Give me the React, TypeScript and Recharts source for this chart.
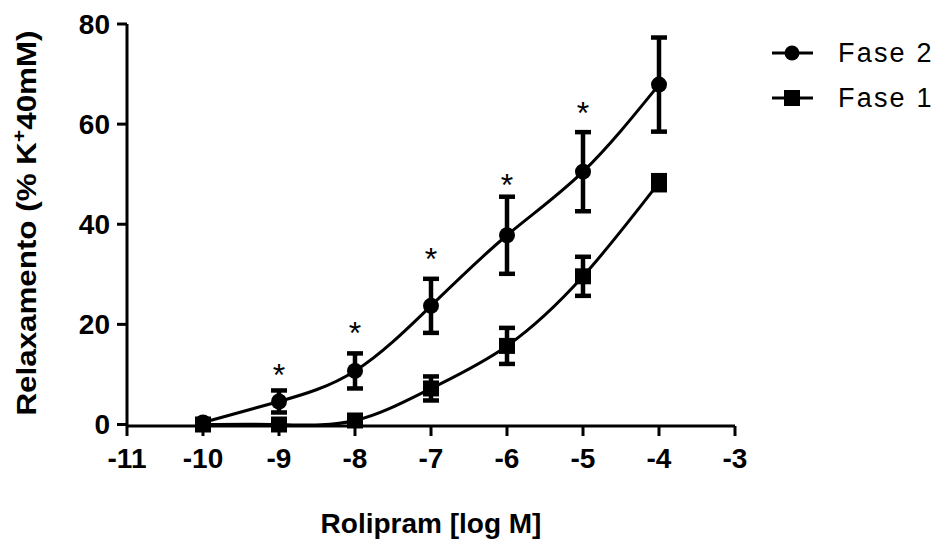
import React from 'react';
import { ComposedChart, Line, Scatter, XAxis, YAxis, ErrorBar, Label } from 'recharts';

// log concentration of rolipram
const doses = [-10, -9, -8, -7, -6, -5, -4];
// Fase 2 (circles)
const fase2Mean = [0.4, 4.6, 10.7, 23.7, 37.8, 50.5, 67.9];
const fase2Sem = [0.5, 2.2, 3.5, 5.4, 7.7, 7.9, 9.4];
// Fase 1 (squares)
const fase1Mean = [0, 0, 0.8, 7.2, 15.7, 29.6, 48.3];
const fase1Sem = [0.3, 0.3, 0.5, 2.4, 3.6, 3.9, 1.5];
// significance marks
const starDoses = [-9, -8, -7, -6, -5];
const starLevels = [11.3, 19.7, 34.4, 49.2, 63.7];

const xTicks = [-11, -10, -9, -8, -7, -6, -5, -4, -3];
const yTicks = [0, 20, 40, 60, 80];

const font = '"Liberation Sans", Arial, sans-serif';

const fase2Data = doses.map((x, i) => ({ x, y: fase2Mean[i], err: fase2Sem[i] }));
const fase1Data = doses.map((x, i) => ({ x, y: fase1Mean[i], err: fase1Sem[i] }));
const starData = starDoses.map((x, i) => ({ x, y: starLevels[i] }));

const CircleDot = (p: any) => <circle key={`c-${p.index}`} cx={p.cx} cy={p.cy} r={8} fill="#000" />;
const SquareDot = (p: any) => <rect key={`s-${p.index}`} x={p.cx - 8} y={p.cy - 8} width={16} height={16} fill="#000" />;
const Star = (p: any) => (
  <text x={p.cx} y={p.cy + 18} textAnchor="middle" fontSize={32} fontFamily={font} fill="#000">*</text>
);

const YTitle = (p: any) => {
  const vb = p.viewBox || { x: 0, y: 24, width: 127, height: 402 };
  const cy = vb.y + vb.height / 2 - 2;
  const x = 36;
  return (
    <text
      transform={`rotate(-90, ${x}, ${cy})`}
      x={x}
      y={cy}
      textAnchor="middle"
      fontSize={28}
      fontWeight="bold"
      fontFamily={font}
      fill="#000"
      textLength={385}
      lengthAdjust="spacingAndGlyphs"
    >
      Relaxamento (% K<tspan dy={-11} fontSize={19}>+</tspan><tspan dy={11}>40mM)</tspan>
    </text>
  );
};

const legendText = { fontSize: 27, fontFamily: font, fill: '#000', letterSpacing: 2.2 };

const LegendBox = () => (
  <svg width={178} height={80} style={{ position: 'absolute', left: 770, top: 40 }}>
    <line x1={2} y1={13} x2={43} y2={13} stroke="#000" strokeWidth={3} />
    <circle cx={22} cy={13} r={7.5} fill="#000" />
    <text x={68} y={22} style={legendText}>Fase 2</text>
    <line x1={2} y1={58} x2={43} y2={58} stroke="#000" strokeWidth={3} />
    <rect x={14} y={50} width={16} height={16} fill="#000" />
    <text x={68} y={67} style={legendText}>Fase 1</text>
  </svg>
);

export default function App() {
  return (
    <div style={{ position: 'absolute', left: 0, top: 0, width: 948, height: 547, background: '#fff' }}>
      <ComposedChart width={948} height={547} margin={{ top: 24, right: 213, bottom: 0, left: 0 }}>
        <XAxis
          type="number"
          dataKey="x"
          domain={[-11, -3]}
          ticks={xTicks}
          allowDuplicatedCategory={false}
          height={121}
          tickSize={10}
          tickMargin={12}
          axisLine={{ stroke: '#000', strokeWidth: 3 }}
          tickLine={{ stroke: '#000', strokeWidth: 3 }}
          tick={{ fill: '#000', fontSize: 28, fontWeight: 'bold', fontFamily: font }}
        >
          <Label
            value="Rolipram [log M]"
            position="insideBottom"
            offset={14}
            style={{ fill: '#000', fontSize: 28, fontWeight: 'bold', fontFamily: font }}
          />
        </XAxis>
        <YAxis
          type="number"
          dataKey="y"
          domain={[0, 80]}
          ticks={yTicks}
          width={127}
          tickSize={10}
          tickMargin={7}
          axisLine={{ stroke: '#000', strokeWidth: 3 }}
          tickLine={{ stroke: '#000', strokeWidth: 3 }}
          tick={{ fill: '#000', fontSize: 28, fontWeight: 'bold', fontFamily: font }}
        >
          <Label content={YTitle} />
        </YAxis>
        <Line
          data={fase1Data}
          dataKey="y"
          type="natural"
          stroke="#000"
          strokeWidth={3}
          dot={SquareDot}
          activeDot={false}
          isAnimationActive={false}
          name="Fase 1"
        >
          <ErrorBar dataKey="err" direction="y" width={8} strokeWidth={4.5} stroke="#000" isAnimationActive={false} />
        </Line>
        <Line
          data={fase2Data}
          dataKey="y"
          type="natural"
          stroke="#000"
          strokeWidth={3}
          dot={CircleDot}
          activeDot={false}
          isAnimationActive={false}
          name="Fase 2"
        >
          <ErrorBar dataKey="err" direction="y" width={8} strokeWidth={4.5} stroke="#000" isAnimationActive={false} />
        </Line>
        <Scatter data={starData} dataKey="y" shape={Star} isAnimationActive={false} legendType="none" />
      </ComposedChart>
      <LegendBox />
    </div>
  );
}
